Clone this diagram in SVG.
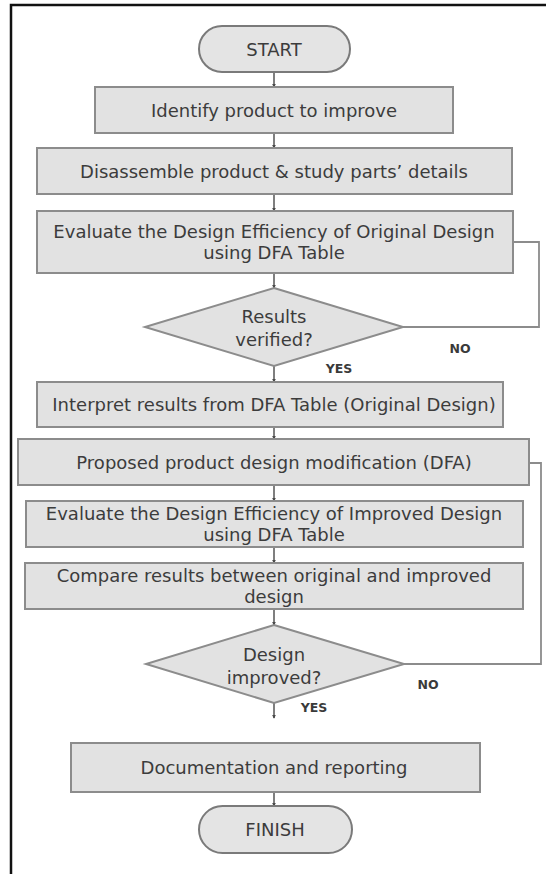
<svg xmlns="http://www.w3.org/2000/svg" width="546" height="874" viewBox="0 0 546 874">
<defs>
<marker id="arr" viewBox="0 0 6 6" refX="5" refY="3" markerWidth="4" markerHeight="4" orient="auto" markerUnits="userSpaceOnUse">
<path d="M0,0 L6,3 L0,6 z" fill="#4a4a4a"/>
</marker>
<style>
.box{fill:#e2e2e2;stroke:#8c8c8c;stroke-width:2}
.term{fill:#e4e4e4;stroke:#7a7a7a;stroke-width:2}
.t{font-family:"DejaVu Sans","Liberation Sans",sans-serif;font-size:18px;fill:#3c3c3c;text-anchor:middle}
.lab{font-family:"DejaVu Sans","Liberation Sans",sans-serif;font-size:12.5px;font-weight:bold;fill:#3a3a3a;text-anchor:middle}
.c{fill:none;stroke:#555;stroke-width:1.5}
.loop{fill:none;stroke:#8c8c8c;stroke-width:1.8}
</style>
</defs>
<rect width="546" height="874" fill="#fff"/>
<path d="M11,874 V5 H546" fill="none" stroke="#111" stroke-width="2.5"/>

<g id="connectors">
<line class="c" x1="274" y1="72" x2="274" y2="87" marker-end="url(#arr)"/>
<line class="c" x1="274" y1="133" x2="274" y2="148" marker-end="url(#arr)"/>
<line class="c" x1="274" y1="194" x2="274" y2="211" marker-end="url(#arr)"/>
<line class="c" x1="274" y1="273" x2="274" y2="288" marker-end="url(#arr)"/>
<line class="c" x1="274" y1="366" x2="274" y2="382" marker-end="url(#arr)"/>
<line class="c" x1="274" y1="427" x2="274" y2="439" marker-end="url(#arr)"/>
<line class="c" x1="274" y1="485" x2="274" y2="501" marker-end="url(#arr)"/>
<line class="c" x1="274" y1="547" x2="274" y2="563" marker-end="url(#arr)"/>
<line class="c" x1="274" y1="609" x2="274" y2="625" marker-end="url(#arr)"/>
<line class="c" x1="274" y1="703" x2="274" y2="718" marker-end="url(#arr)"/>
<line class="c" x1="274" y1="792" x2="274" y2="806" marker-end="url(#arr)"/>
<polyline class="loop" points="403,327 539,327 539,242 513,242"/>
<polyline class="loop" points="404,664 541,664 541,463 529,463"/>
<text class="lab" x="460" y="353">NO</text>
<text class="lab" x="339" y="373">YES</text>
<text class="lab" x="428" y="689">NO</text>
<text class="lab" x="314" y="712">YES</text>
</g>

<g id="start">
<rect class="term" x="199" y="26" width="151" height="46" rx="23"/>
<text class="t" x="274" y="55.5">START</text>
</g>
<g id="identify">
<rect class="box" x="95" y="87" width="358" height="46"/>
<text class="t" x="274" y="116.5">Identify product to improve</text>
</g>
<g id="disassemble">
<rect class="box" x="37" y="148" width="475" height="46"/>
<text class="t" x="274" y="177.5">Disassemble product &amp; study parts’ details</text>
</g>
<g id="evaluate-original">
<rect class="box" x="37" y="211" width="476" height="62"/>
<text class="t" x="274" y="238">Evaluate the Design Efficiency of Original Design</text>
<text class="t" x="274" y="259">using DFA Table</text>
</g>
<g id="results-verified">
<polygon class="box" points="274,288 403,327 274,366 145,327"/>
<text class="t" x="274" y="323">Results</text>
<text class="t" x="274" y="346">verified?</text>
</g>
<g id="interpret">
<rect class="box" x="37" y="382" width="466" height="45"/>
<text class="t" x="274" y="411">Interpret results from DFA Table (Original Design)</text>
</g>
<g id="proposed">
<rect class="box" x="18" y="439" width="511" height="46"/>
<text class="t" x="274" y="468.5">Proposed product design modification (DFA)</text>
</g>
<g id="evaluate-improved">
<rect class="box" x="26" y="501" width="497" height="46"/>
<text class="t" x="274" y="520">Evaluate the Design Efficiency of Improved Design</text>
<text class="t" x="274" y="541">using DFA Table</text>
</g>
<g id="compare">
<rect class="box" x="25" y="563" width="498" height="46"/>
<text class="t" x="274" y="581.5">Compare results between original and improved</text>
<text class="t" x="274" y="602.5">design</text>
</g>
<g id="design-improved">
<polygon class="box" points="274,625 404,664 274,703 146,664"/>
<text class="t" x="274" y="660.5">Design</text>
<text class="t" x="274" y="683.5">improved?</text>
</g>
<g id="documentation">
<rect class="box" x="71" y="743" width="409" height="49"/>
<text class="t" x="274" y="774">Documentation and reporting</text>
</g>
<g id="finish">
<rect class="term" x="199" y="806" width="153" height="47" rx="23.5"/>
<text class="t" x="275" y="836">FINISH</text>
</g>
</svg>
